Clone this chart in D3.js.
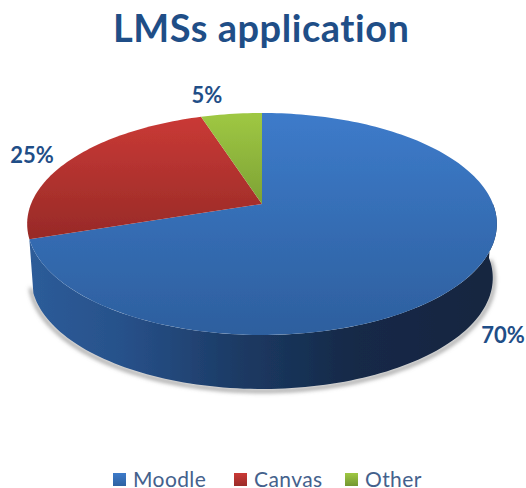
<!DOCTYPE html>
<html>
<head>
<meta charset="utf-8">
<script src="https://cdn.jsdelivr.net/npm/d3@7"></script>
<style>
  html, body { margin: 0; padding: 0; background: #fff; }
  svg { display: block; font-family: Lato, "Open Sans", sans-serif; font-variant-ligatures: none; }
</style>
</head>
<body>
<div id="chart"></div>
<script>
var categories = ["Moodle", "Canvas", "Other"];
var shares = [70, 25, 5];
var labels = ["70%", "25%", "5%"];

var width = 526, height = 488;

var svg = d3.select("#chart").append("svg")
    .attr("width", width)
    .attr("height", height);

var defs = svg.append("defs");

// colores de cada sector: arriba, abajo
var topColors = {
    Moodle: ["#3d7bca", "#2d5f9e"],
    Canvas: ["#cb3a36", "#972a27"],
    Other: ["#9fc843", "#70932f"]
};

var pie = d3.pie().sort(null).value(function(d){ return d; });
var slices = pie(shares);

// pie tumbado con perspectiva: circulo unidad -> pantalla
var cx = 262, cy = 204, rx = 231, ry = 107.4, tilt = -0.18, depth = 54;

function project(angle, drop, shrink) {
    var ux = Math.sin(angle), uy = -Math.cos(angle);
    var w = 1 + tilt * uy;
    return [cx + (rx - shrink) * ux / w, cy + drop + ry * uy / w];
}

function rim(a0, a1, drop, shrink) {
    var n = Math.max(2, Math.ceil((a1 - a0) * 40));
    return d3.range(n + 1).map(function(i){
        return project(a0 + (a1 - a0) * i / n, drop, shrink);
    });
}

var line = d3.line();

function vertical(id, colors, y0, y1) {
    var g = defs.append("linearGradient").attr("id", id)
        .attr("gradientUnits", "userSpaceOnUse")
        .attr("x1", 0).attr("x2", 0).attr("y1", y0).attr("y2", y1);
    g.append("stop").attr("offset", 0).attr("stop-color", colors[0]);
    g.append("stop").attr("offset", 1).attr("stop-color", colors[1]);
}

categories.forEach(function(c, i){
    vertical("top" + i, topColors[c], 113, i == 0 ? 335 : 240);
    vertical("key" + i, topColors[c], 473, 487);
});

var wallBlue = defs.append("linearGradient").attr("id", "wallBlue")
    .attr("gradientUnits", "userSpaceOnUse")
    .attr("x1", 30).attr("x2", 495).attr("y1", 0).attr("y2", 0);
wallBlue.selectAll("stop")
    .data([[0, "#2d5c99"], [0.2, "#27518a"], [0.45, "#1c3a64"], [0.7, "#142947"], [1, "#122540"]])
    .enter().append("stop")
    .attr("offset", function(d){ return d[0]; })
    .attr("stop-color", function(d){ return d[1]; });

var blur = defs.append("filter").attr("id", "soft")
    .attr("x", "-10%").attr("y", "-10%").attr("width", "120%").attr("height", "120%");
blur.append("feGaussianBlur").attr("stdDeviation", 2.2);

var smooth = defs.append("filter").attr("id", "smooth");
smooth.append("feGaussianBlur").attr("stdDeviation", 0.45);

var pieG = svg.append("g").attr("filter", "url(#smooth)");

// pared frontal
var frontStart = Math.PI / 2, frontEnd = Math.PI * 1.42;
function wallPath(a0, a1) {
    return line(rim(a0, a1, 0, 0).concat(rim(a0, a1, depth, 4).reverse())) + "Z";
}

// sombra bajo la pared
pieG.append("path")
    .attr("d", line(rim(frontStart, frontEnd, depth + 2, 3)))
    .attr("fill", "none")
    .attr("stroke", "#8a8a8a")
    .attr("stroke-width", 3)
    .attr("filter", "url(#soft)");

pieG.append("path")
    .attr("d", wallPath(frontStart, slices[0].endAngle))
    .attr("fill", "url(#wallBlue)");

// sectores de arriba
pieG.selectAll(".slice")
    .data(slices)
    .enter()
    .append("path")
    .attr("class", "slice")
    .attr("d", function(d){
        return line([[cx, cy]].concat(rim(d.startAngle, d.endAngle, 0, 0))) + "Z";
    })
    .attr("fill", function(d, i){ return "url(#top" + i + ")"; });

// titulo
svg.append("text")
    .text("LMSs application")
    .attr("x", 261)
    .attr("y", 42)
    .attr("text-anchor", "middle")
    .attr("font-size", 38)
    .attr("font-weight", 700)
    .attr("textLength", 296)
    .attr("fill", "#1f4e87");

// etiquetas de porcentaje
var labelAt = [[503, 343], [32, 163], [207, 103]];
svg.selectAll(".pct")
    .data(labels)
    .enter()
    .append("text")
    .attr("class", "pct")
    .text(function(d){ return d; })
    .attr("x", function(d, i){ return labelAt[i][0]; })
    .attr("y", function(d, i){ return labelAt[i][1]; })
    .attr("text-anchor", "middle")
    .attr("font-size", 22)
    .attr("font-weight", 700)
    .attr("fill", "#1f4e87");

// leyenda
var keyX = d3.scaleOrdinal().domain(categories).range([113, 234, 345]);
var legend = svg.selectAll(".key")
    .data(categories)
    .enter()
    .append("g")
    .attr("class", "key")
    .attr("transform", function(d){ return "translate(" + keyX(d) + ",0)"; });

legend.append("rect")
    .attr("y", 473)
    .attr("width", 13)
    .attr("height", 13)
    .attr("fill", function(d, i){ return "url(#key" + i + ")"; });

legend.append("text")
    .text(function(d){ return d; })
    .attr("x", 20)
    .attr("y", 487)
    .attr("font-size", 21)
    .attr("letter-spacing", 0.4)
    .attr("fill", "#44618c");
</script>
</body>
</html>
